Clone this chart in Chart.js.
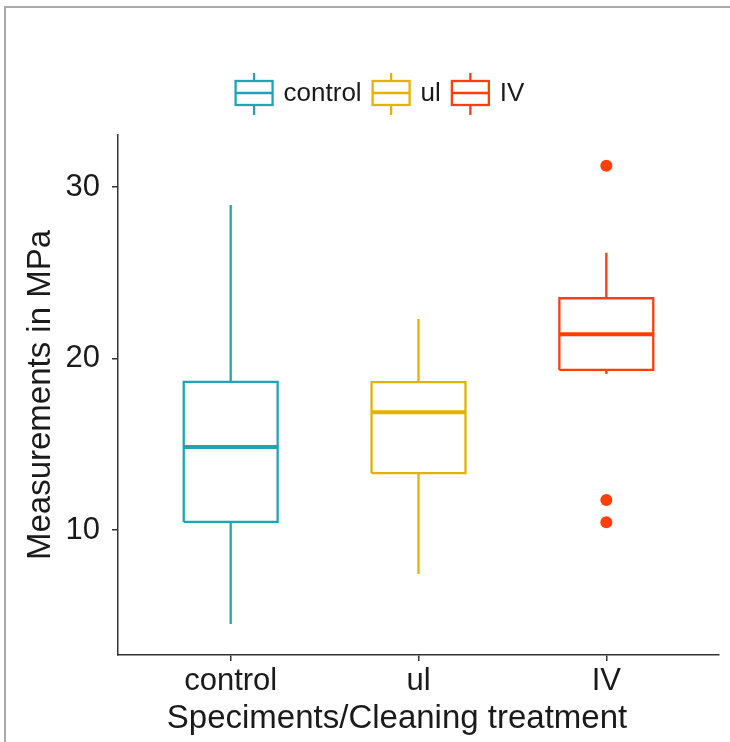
<!DOCTYPE html>
<html>
<head>
<meta charset="utf-8">
<script src="https://cdn.jsdelivr.net/npm/chart.js@4.4.0/dist/chart.umd.min.js"></script>
<style>
body { margin: 0; background: #fff; }
#wrap { position: relative; width: 730px; height: 742px; overflow: hidden; }
#frame { position: absolute; left: 4px; top: 6px; width: 800px; height: 800px;
         border-top: 2px solid #aaa; border-left: 2px solid #aaa; }
canvas { position: absolute; left: 0; top: 0; }
</style>
</head>
<body>
<div id="wrap"><div id="frame"></div><canvas id="myChart" width="730" height="742"></canvas></div>
<script>
// Boxplot of measurements per cleaning treatment (drawn with line/scatter datasets)

const groups = ['control', 'ul', 'IV'];          // categories / legend labels
const whiskerHigh = [28.95, 22.3, 26.17];
const q3 = [18.63, 18.62, 23.51];
const median = [14.84, 16.86, 21.41];
const q1 = [10.47, 13.31, 19.33];
const whiskerLow = [4.52, 7.43, 19.1];
const outlierGroup = [3, 3, 3];                  // IV
const outlierValues = [31.24, 11.75, 10.45];
const yTicks = [10, 20, 30];
const xTitle = 'Speciments/Cleaning treatment';
const yTitle = 'Measurements in MPa';

const colors = ['#1DA5B6', '#E4B200', '#FF3E08'];
const boxHalf = 0.25;   // half box width in category units
const textColor = '#1a1a1a';
const axisColor = '#333333';
const fontFamily = '"Liberation Sans", Arial, Helvetica, sans-serif';

Chart.defaults.font.family = fontFamily;

function buildDatasets() {
    const datasets = [];
    groups.forEach((g, i) => {
        const x = i + 1;
        datasets.push({             // box
            label: g + ' box',
            data: [
                {x: x - boxHalf, y: q1[i]}, {x: x - boxHalf, y: q3[i]},
                {x: x + boxHalf, y: q3[i]}, {x: x + boxHalf, y: q1[i]},
                {x: x - boxHalf, y: q1[i]}
            ],
            showLine: true, borderColor: colors[i], borderWidth: 2.3,
            pointRadius: 0, borderJoinStyle: 'miter', tension: 0
        });
        datasets.push({             // median
            label: g + ' median',
            data: [{x: x - boxHalf, y: median[i]}, {x: x + boxHalf, y: median[i]}],
            showLine: true, borderColor: colors[i], borderWidth: 4,
            pointRadius: 0, borderCapStyle: 'butt'
        });
        datasets.push({             // whiskers
            label: g + ' whiskers',
            data: [
                {x: x, y: whiskerHigh[i]}, {x: x, y: q3[i]}, {x: x, y: null},
                {x: x, y: q1[i]}, {x: x, y: whiskerLow[i]}
            ],
            showLine: true, spanGaps: false, borderColor: colors[i], borderWidth: 2.3,
            pointRadius: 0
        });
    });
    datasets.push({                 // outliers
        label: 'outliers',
        data: outlierValues.map((v, k) => ({x: outlierGroup[k], y: v})),
        showLine: false, pointRadius: 6, pointHoverRadius: 6,
        backgroundColor: colors[2], borderWidth: 0
    });
    return datasets;
}

// legend with small boxplot glyphs + x axis title, drawn on top
const boxLegend = {
    id: 'boxLegend',
    afterDraw(chart) {
        const ctx = chart.ctx;
        ctx.save();
        ctx.font = '26px ' + fontFamily;
        const iconW = 37, gapText = 11, gapItem = 11, cy = 93;
        const widths = groups.map(g => ctx.measureText(g).width);
        let total = 0;
        widths.forEach((w, i) => { total += iconW + gapText + w + (i < groups.length - 1 ? gapItem : 0); });
        let x = 380 - total / 2;
        groups.forEach((g, i) => {
            ctx.strokeStyle = colors[i];
            ctx.lineWidth = 2.3;
            ctx.strokeRect(x, cy - 12, iconW, 24);
            ctx.beginPath();
            ctx.moveTo(x, cy); ctx.lineTo(x + iconW, cy);
            ctx.moveTo(x + iconW / 2, cy - 20); ctx.lineTo(x + iconW / 2, cy - 12);
            ctx.moveTo(x + iconW / 2, cy + 12); ctx.lineTo(x + iconW / 2, cy + 22);
            ctx.stroke();
            ctx.fillStyle = textColor;
            ctx.textBaseline = 'middle';
            ctx.fillText(g, x + iconW + gapText, cy + 1);
            x += iconW + gapText + widths[i] + gapItem;
        });
        // x axis title
        ctx.font = '33px ' + fontFamily;
        ctx.textAlign = 'center';
        ctx.fillText(xTitle, 397, 719);
        ctx.restore();
    }
};

function createChart() {
    const ctx = document.getElementById('myChart');
    new Chart(ctx, {
        type: 'scatter',
        data: { datasets: buildDatasets() },
        plugins: [boxLegend],
        options: {
            responsive: false,
            animation: false,
            devicePixelRatio: 1,
            layout: { padding: { top: 135, right: 11, bottom: 0, left: 0 } },
            plugins: { legend: { display: false }, tooltip: { enabled: false } },
            scales: {
                x: {
                    type: 'linear', min: 0.4, max: 3.6,
                    afterBuildTicks: scale => { scale.ticks = groups.map((g, i) => ({value: i + 1})); },
                    afterFit: scale => { scale.height = 87; },
                    ticks: {
                        callback: v => groups[v - 1],
                        color: textColor, font: { size: 31 }, padding: 2, maxRotation: 0
                    },
                    grid: { drawOnChartArea: false, drawTicks: true, tickLength: 6, color: axisColor, lineWidth: 1.5 },
                    border: { display: true, color: axisColor, width: 1.5 }
                },
                y: {
                    min: 2.71, max: 33.03,
                    afterBuildTicks: scale => { scale.ticks = yTicks.map(v => ({value: v})); },
                    afterFit: scale => { scale.width = 118; },
                    ticks: { color: textColor, font: { size: 31 }, padding: 12 },
                    grid: { drawOnChartArea: false, drawTicks: true, tickLength: 6, color: axisColor, lineWidth: 1.5 },
                    border: { display: true, color: axisColor, width: 1.5 },
                    title: {
                        display: true, text: yTitle,
                        color: textColor, font: { size: 33 }, padding: { top: 21.5, bottom: 0 }
                    }
                }
            }
        }
    });
}

createChart();
</script>
</body>
</html>
